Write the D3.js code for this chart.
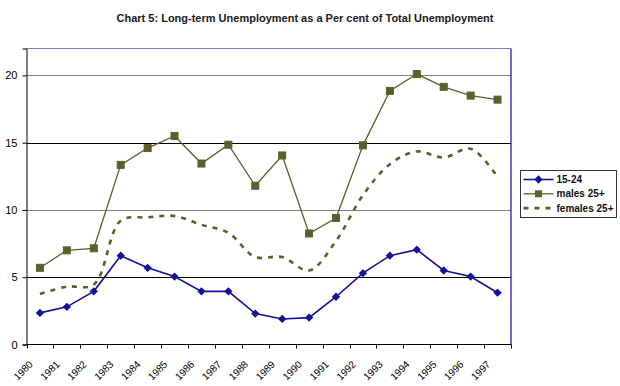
<!DOCTYPE html>
<html><head><meta charset="utf-8">
<script src="https://cdn.jsdelivr.net/npm/d3@7"></script>
<style>body{margin:0;background:#fff;} svg{display:block;font-family:"Liberation Sans",Arial,sans-serif;}</style>
</head><body><svg id="c" width="620" height="386"></svg>
<script>
const years = ["1980","1981","1982","1983","1984","1985","1986","1987","1988","1989","1990","1991","1992","1993","1994","1995","1996","1997"];
const youth = [2.35,2.8,3.95,6.6,5.7,5.05,3.95,3.95,2.3,1.9,2.0,3.55,5.3,6.6,7.05,5.5,5.05,3.85];
const males = [5.7,7.0,7.15,13.35,14.6,15.5,13.45,14.85,11.8,14.05,8.25,9.4,14.8,18.85,20.1,19.15,18.5,18.2];
const females = [3.75,4.3,4.45,9.2,9.45,9.55,8.9,8.3,6.5,6.5,5.5,7.7,11.1,13.4,14.35,13.9,14.55,12.45];
const yTicks = [0,5,10,15,20];
const seriesNames = ["15-24","males 25+","females 25+"];

const svg = d3.select("#c");
const L=26.5, R=511, T=48.5, B=344.5;
const x = d3.scaleBand().domain(years).range([L,R]);
const y = d3.scaleLinear().domain([0,22]).range([B,T]);
const cx = d => x(d)+x.bandwidth()/2;

svg.append("text").attr("x",305).attr("y",22).attr("text-anchor","middle")
  .attr("font-size","11px").attr("font-weight","bold").attr("fill","#1a1a1a")
  .text("Chart 5: Long-term Unemployment as a Per cent of Total Unemployment");

// gridlines
svg.append("g").selectAll("line").data(yTicks.filter(v=>v>0)).join("line")
  .attr("x1",L).attr("x2",R).attr("y1",d=>Math.round(y(d))+0.5).attr("y2",d=>Math.round(y(d))+0.5)
  .attr("stroke",d=>d%10===0?"#808080":"#000").attr("stroke-width",1);
// border top/right
svg.append("line").attr("x1",L).attr("x2",R).attr("y1",T).attr("y2",T).attr("stroke","#7b7bd6");
svg.append("line").attr("x1",R).attr("x2",R).attr("y1",T).attr("y2",B).attr("stroke","#1010a8").attr("stroke-width",1.2);

// y axis
const ya = svg.append("g").attr("transform",`translate(${L},0)`)
  .call(d3.axisLeft(y).tickValues(yTicks).tickSize(4).tickPadding(5).tickFormat(d3.format("d")));
ya.select(".domain").attr("stroke","#000");
ya.selectAll("text").attr("font-size","11px").attr("fill","#000").attr("font-family","Liberation Sans, Arial, sans-serif");
ya.selectAll(".tick line").attr("stroke","#000");

// x axis
const xa = svg.append("g").attr("transform",`translate(0,${B})`);
xa.append("line").attr("x1",L).attr("x2",R).attr("stroke","#000");
xa.selectAll("line.t").data(years.concat(["end"])).join("line").attr("class","t")
  .attr("x1",(d,i)=>Math.round(L+i*x.bandwidth())+0.5).attr("x2",(d,i)=>Math.round(L+i*x.bandwidth())+0.5)
  .attr("y1",0).attr("y2",4).attr("stroke","#000");
xa.selectAll("text").data(years).join("text")
  .attr("transform",d=>`translate(${cx(d)-9},${18}) rotate(-45)`)
  .attr("text-anchor","end").attr("dy","0.35em")
  .attr("font-size","10px").attr("fill","#000").text(d=>d);

const blue="#12129a", olive="#5e5e2c";
const line = d3.line().x((d,i)=>cx(years[i])).y(d=>y(d));
svg.append("path").datum(females).attr("fill","none").attr("stroke",olive).attr("stroke-width",2.6)
  .attr("stroke-dasharray","5,6").attr("d",line.curve(d3.curveCatmullRom.alpha(0.5)));
const lineS = d3.line().x((d,i)=>cx(years[i])).y(d=>y(d));
svg.append("path").datum(males).attr("fill","none").attr("stroke",olive).attr("stroke-width",1.3).attr("d",lineS);
svg.append("g").selectAll("rect").data(males).join("rect")
  .attr("x",(d,i)=>cx(years[i])-3.5).attr("y",d=>y(d)-3.5).attr("width",7).attr("height",7)
  .attr("fill",olive).attr("stroke",olive);
svg.append("path").datum(youth).attr("fill","none").attr("stroke",blue).attr("stroke-width",1.6).attr("d",lineS);
const diamond = d3.symbol().type(d3.symbolDiamond2).size(44);
svg.append("g").selectAll("path").data(youth).join("path")
  .attr("transform",(d,i)=>`translate(${cx(years[i])},${y(d)})`).attr("d",diamond).attr("fill",blue);

// legend
const lg = svg.append("g").attr("transform","translate(520.5,170.5)");
lg.append("rect").attr("width",96).attr("height",47).attr("fill","#fff").attr("stroke","#333");
const items=[{c:blue,m:"d",dash:null,w:1.6},{c:olive,m:"s",dash:null,w:1.3},{c:olive,m:null,dash:"5,6",w:2.6}];
items.forEach((it,i)=>{
  const yy=9+i*14.3;
  lg.append("line").attr("x1",3).attr("x2",33).attr("y1",yy).attr("y2",yy).attr("stroke",it.c).attr("stroke-width",it.w)
    .attr("stroke-dasharray",it.dash);
  if(it.m==="d") lg.append("path").attr("transform",`translate(18,${yy})`).attr("d",diamond).attr("fill",it.c);
  if(it.m==="s") lg.append("rect").attr("x",14.5).attr("y",yy-3.5).attr("width",7).attr("height",7).attr("fill",it.c);
  lg.append("text").attr("x",36).attr("y",yy).attr("dy","0.35em").attr("font-size","10px").attr("font-weight","bold")
    .attr("fill","#111").text(seriesNames[i]);
});
</script></body></html>
